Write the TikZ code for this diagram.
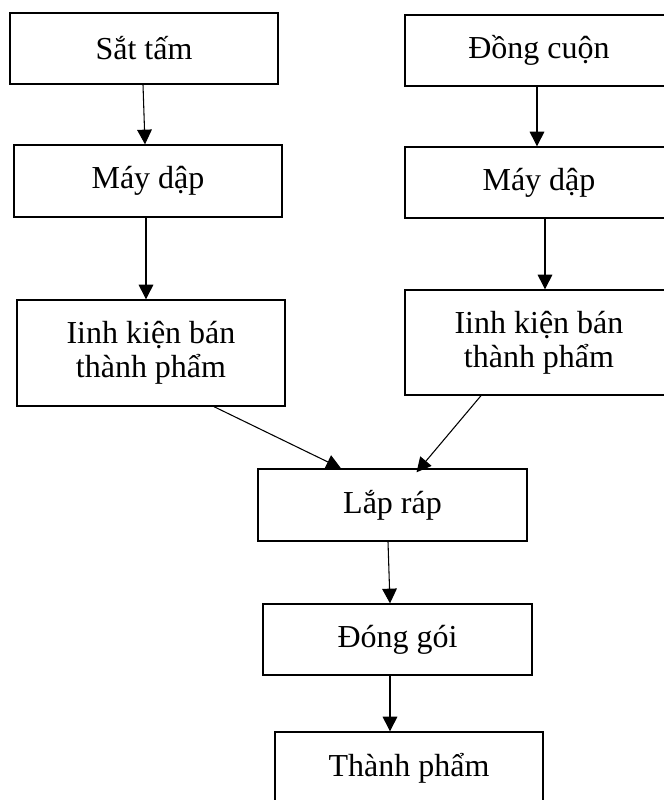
\documentclass[tikz,border=0pt]{standalone}
\usepackage{fontspec}
\setmainfont{Liberation Serif}
\usetikzlibrary{arrows.meta}
\begin{document}
\begin{tikzpicture}[x=0.75pt,y=-0.75pt,
  box/.style={draw,line width=1pt,inner sep=0pt,align=center,
    font=\fontsize{24}{25.5}\selectfont},
  arr/.style={line width=0.8pt,-{Triangle[length=11pt,width=11pt]}}]
\useasboundingbox (0,0) rectangle (664,800);
\node[box,minimum width=0.75*268,minimum height=0.75*71] (A) at (144,48.5) {Sắt tấm};
\node[box,minimum width=0.75*268,minimum height=0.75*72] (B) at (148,181) {Máy dập};
\node[box,minimum width=0.75*268,minimum height=0.75*106] (C) at (151,353) {Iinh kiện bán\\thành phẩm};
\node[box,minimum width=0.75*268,minimum height=0.75*71] (D) at (539,50.5) {Đồng cuộn};
\node[box,minimum width=0.75*268,minimum height=0.75*71] (E) at (539,182.5) {Máy dập};
\node[box,minimum width=0.75*268,minimum height=0.75*105] (F) at (539,342.5) {Iinh kiện bán\\thành phẩm};
\node[box,minimum width=0.75*269,minimum height=0.75*72] (G) at (392.5,505) {Lắp ráp};
\node[box,minimum width=0.75*269,minimum height=0.75*71] (H) at (397.5,639.5) {Đóng gói};
\node[box,minimum width=0.75*268,minimum height=0.75*72] (I) at (409,768) {Thành phẩm};
\draw[arr] ([xshift=-0.75*1]A.south) -- ([xshift=-0.75*3]B.north);
\draw[arr] ([xshift=-0.75*2]B.south) -- ([xshift=-0.75*5]C.north);
\draw[arr] ([xshift=-0.75*2]D.south) -- ([xshift=-0.75*2]E.north);
\draw[arr] ([xshift=0.75*6]E.south) -- ([xshift=0.75*6]F.north);
\draw[arr] ([xshift=0.75*63]C.south) -- ([xshift=-0.75*51.5]G.north);
\draw[arr] ([xshift=-0.75*58]F.south) -- ([xshift=0.75*24,yshift=-0.75*4]G.north);
\draw[arr] ([xshift=-0.75*4.5]G.south) -- ([xshift=-0.75*7.5]H.north);
\draw[arr] ([xshift=-0.75*7.5]H.south) -- ([xshift=-0.75*19]I.north);
\end{tikzpicture}
\end{document}
